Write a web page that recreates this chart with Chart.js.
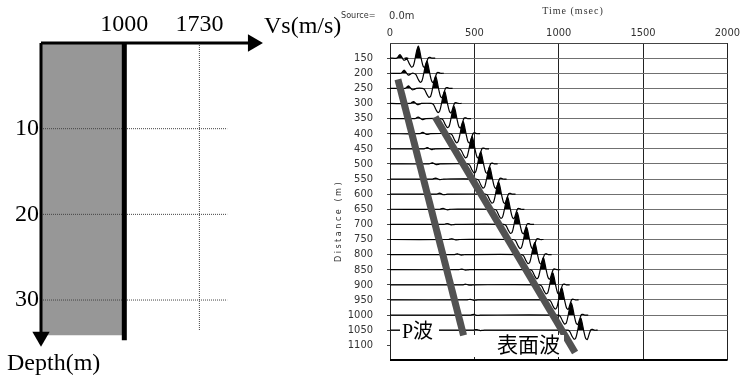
<!DOCTYPE html>
<html>
<head>
<meta charset="utf-8">
<script src="https://cdn.jsdelivr.net/npm/chart.js@4.4.1/dist/chart.umd.min.js"></script>
<style>
  html, body { margin: 0; padding: 0; background: #fff; }
  #wrap { position: relative; width: 743px; height: 381px; overflow: hidden; background: #fff; }
  #wrap canvas { position: absolute; left: 0; top: 0; }
</style>
</head>
<body>
<div id="wrap">
  <canvas id="profile" width="743" height="381"></canvas>
  <canvas id="gather" width="743" height="381"></canvas>
</div>
<script>
// ---------- Velocity profile ----------
const vsTicks = [1000, 1730];          // m/s labels on the Vs axis
const depthTicks = [10, 20, 30];       // m labels on the depth axis
const layerVs = 1000;                  // m/s of the shaded layer
const refVs = 1730;                    // m/s dotted reference line
const layerBottom = 34.1;              // m, bottom of the shaded layer
const layerLineBottom = 34.7;          // m, bottom of the bold Vs line
const refLineBottom = 33.6;            // m, bottom of the dotted Vs line
const gridVsEnd = 2000;                // m/s, end of the dotted depth lines
const vsMin = 190, vsMax = 3000;       // Vs axis range
const vsArrowEnd = 2251;               // m/s, arrow head position
const depthMax = 37;                   // depth axis range
const depthArrowEnd = 34.3;            // m, arrow head position

// ---------- Shot gather ----------
const offsets = [150, 200, 250, 300, 350, 400, 450, 500, 550, 600,
                 650, 700, 750, 800, 850, 900, 950, 1000, 1050];          // m
const surfacePeak = [168, 219, 271, 324, 380, 434, 487, 538, 591, 644,
                     697, 754, 810, 858, 909, 965, 1018, 1075, 1131];     // ms
const pArrival = [60, 85, 110, 140, 168, 195, 222, 252, 272, 295,
                  315, 340, 367, 400, 425, 450, 475, 495, 513];           // ms
const pAmp = [0.28, 0.25, 0.2, 0.16, 0.13, 0.11, 0.1, 0.09, 0.08, 0.08,
              0.07, 0.07, 0.06, 0.06, 0.05, 0.05, 0.05, 0.05, 0.05];     // relative
// surface-wave wavelet, time relative to its main peak (ms) and amplitude
const waveT = [-80, -66, -52, -40, -30, -20, -10, 0, 9, 18, 28, 38, 49, 60, 70, 80];
const waveA = [0, -0.1, -0.5, -0.75, -0.65, -0.1, 0.6, 1, 0.55, -0.1, -0.65, -0.78, -0.35, 0.05, 0.06, 0];
// P-wave wiggle, time relative to its arrival (ms) and amplitude
const pWaveT = [-20, -8, 0, 10, 22, 34, 46];
const pWaveA = [0, 0.7, 1, 0.3, -0.6, -0.4, 0];
const traceGain = 40;       // m of offset axis per unit amplitude
const traceTail = 100;      // ms of trace drawn after the main peak
const timeTicks = [0, 500, 1000, 1500, 2000];
// picked arrival lines: [time ms, offset m] at both ends
const pPick = [[47, 220], [436, 1067]];
const surfacePick = [[268, 345], [1097, 1124]];

const serif = "'Liberation Serif', 'Times New Roman', serif";
const cjk = "'Liberation Serif', 'Noto Sans CJK JP', serif";
const narrow = "'Liberation Sans Narrow', 'DejaVu Sans Condensed', 'Liberation Sans', sans-serif";

function seg(points, extra) {
  return Object.assign({
    data: points, showLine: true, pointRadius: 0, borderColor: '#000',
    borderWidth: 1, fill: false, clip: false, tension: 0, order: 1
  }, extra || {});
}

// ---- left chart ----
const profileText = {
  id: 'profileText',
  afterDraw(chart) {
    const ctx = chart.ctx;
    ctx.save();
    ctx.fillStyle = '#000';
    ctx.textAlign = 'left';
    ctx.textBaseline = 'alphabetic';
    ctx.font = '24px ' + serif;
    ctx.fillText('Vs(m/s)', 264, 33);
    ctx.fillText('Depth(m)', 7, 370);
    ctx.restore();
  }
};

new Chart(document.getElementById('profile'), {
  type: 'scatter',
  data: {
    datasets: [
      seg([{x: vsMin, y: 0}, {x: layerVs, y: 0}], {borderWidth: 0, fill: '+1', backgroundColor: '#979797', order: 10}),
      seg([{x: vsMin, y: layerBottom}, {x: layerVs, y: layerBottom}], {borderWidth: 0, order: 10}),
      ...depthTicks.map(d => seg([{x: vsMin, y: d}, {x: gridVsEnd, y: d}], {borderColor: '#444', borderDash: [1, 1], order: 5})),
      seg([{x: refVs, y: 0}, {x: refVs, y: refLineBottom}], {borderColor: '#444', borderDash: [1, 1], order: 5}),
      seg([{x: layerVs, y: 0}, {x: layerVs, y: layerLineBottom}], {borderWidth: 5}),
      seg([{x: vsMin, y: 0}, {x: vsArrowEnd, y: 0}], {borderWidth: 3, pointRadius: [0, 10], pointStyle: 'triangle',
          rotation: 90, pointBackgroundColor: '#000', pointBorderWidth: 0}),
      seg([{x: vsMin, y: 0}, {x: vsMin, y: depthArrowEnd}], {borderWidth: 3, pointRadius: [0, 10], pointStyle: 'triangle',
          rotation: 180, pointBackgroundColor: '#000', pointBorderWidth: 0})
    ]
  },
  options: {
    responsive: false, animation: false, devicePixelRatio: 1,
    layout: {padding: {left: 0, top: 0, right: 413, bottom: 21}},
    plugins: {legend: {display: false}, tooltip: {enabled: false}},
    scales: {
      x: {
        type: 'linear', position: 'top', min: vsMin, max: vsMax,
        afterBuildTicks: s => { s.ticks = vsTicks.map(v => ({value: v})); },
        afterFit: s => { s.height = 43; },
        grid: {display: false, drawTicks: false}, border: {display: false},
        ticks: {color: '#000', font: {family: serif, size: 24}, padding: 4, maxRotation: 0, autoSkip: false,
                callback: v => String(v)}
      },
      y: {
        type: 'linear', reverse: true, min: 0, max: depthMax,
        afterBuildTicks: s => { s.ticks = depthTicks.map(v => ({value: v})); },
        afterFit: s => { s.width = 41; },
        grid: {display: false, drawTicks: false}, border: {display: false},
        ticks: {color: '#000', font: {family: serif, size: 24}, padding: 2, callback: v => String(v)}
      }
    }
  },
  plugins: [profileText]
});

// ---- right chart ----
function traceData(i) {
  const d = offsets[i];
  const pts = [{x: 0, y: d}];
  pWaveT.forEach((t, k) => pts.push({x: pArrival[i] + t, y: d - pAmp[i] * pWaveA[k] * traceGain}));
  waveT.forEach((t, k) => pts.push({x: surfacePeak[i] + t, y: d - waveA[k] * traceGain}));
  pts.push({x: surfacePeak[i] + traceTail, y: d});
  return pts;
}

const traces = offsets.map((d, i) => ({
  data: traceData(i), showLine: true, pointRadius: 0, borderColor: '#000', borderWidth: 1.2,
  tension: 0.3, clip: false, order: 2,
  fill: {target: {value: d}, above: '#000', below: 'rgba(0,0,0,0)'}
}));

const picks = [pPick, surfacePick].map(p => ({
  data: p.map(q => ({x: q[0], y: q[1]})), showLine: true, pointRadius: 0, order: 1,
  borderColor: '#525252', borderWidth: 7, borderCapStyle: 'butt', fill: false, clip: false
}));

const gatherText = {
  id: 'gatherText',
  afterDatasetsDraw(chart) {
    const ctx = chart.ctx;
    ctx.save();
    // wave labels on white patches
    ctx.fillStyle = '#fff';
    ctx.fillRect(400, 316, 39, 25);
    ctx.fillRect(472, 335, 92, 22);
    ctx.fillStyle = '#000';
    ctx.textAlign = 'left';
    ctx.textBaseline = 'alphabetic';
    ctx.font = '20px ' + cjk;
    ctx.fillText('P波', 402, 338);
    ctx.font = '21px ' + cjk;
    ctx.fillText('表面波', 497, 352);
    // headers
    ctx.fillStyle = '#333';
    ctx.font = '9px ' + narrow;
    ctx.fillText('Source=', 341, 18);
    ctx.font = '11px ' + narrow;
    ctx.fillText('0.0m', 389, 19);
    ctx.textAlign = 'center';
    ctx.font = '10px ' + serif;
    ctx.letterSpacing = '1px';
    ctx.fillText('Time (msec)', 573, 14);
    ctx.translate(341, 221);
    ctx.rotate(-Math.PI / 2);
    ctx.font = '9px ' + narrow;
    ctx.letterSpacing = '2.5px';
    ctx.fillText('Distance (m)', 0, 0);
    ctx.restore();
  }
};

new Chart(document.getElementById('gather'), {
  type: 'scatter',
  data: {datasets: [...traces, ...picks]},
  options: {
    responsive: false, animation: false, devicePixelRatio: 1,
    layout: {padding: {left: 330, top: 0, right: 2.5, bottom: 7}},
    plugins: {legend: {display: false}, tooltip: {enabled: false}},
    scales: {
      x: {
        type: 'linear', position: 'top', min: 0, max: 2000,
        afterBuildTicks: s => { s.ticks = timeTicks.map(v => ({value: v})); },
        afterFit: s => { s.height = 43; },
        grid: {color: '#222', lineWidth: 1, drawTicks: false}, border: {display: false},
        ticks: {color: '#333', font: {family: narrow, size: 11}, padding: 3, maxRotation: 0, autoSkip: false,
                callback: v => String(v)}
      },
      y: {
        type: 'linear', reverse: true, min: 100, max: 1150,
        afterBuildTicks: s => {
          const t = [];
          for (let v = 100; v <= 1150; v += 50) t.push({value: v});
          s.ticks = t;
        },
        afterFit: s => { s.width = 60; },
        grid: {
          color: c => c.tick.value === 1150 ? '#000' : c.tick.value === 100 ? '#444' :
                      c.tick.value === 1100 ? 'rgba(0,0,0,0)' : '#707070',
          lineWidth: c => c.tick.value === 1150 ? 2 : 1,
          tickColor: c => (c.tick.value === 100 || c.tick.value === 1150) ? 'rgba(0,0,0,0)' : '#444',
          tickLength: 3
        },
        border: {display: false},
        ticks: {
          color: '#333', font: {family: narrow, size: 11}, padding: 14, autoSkip: false,
          callback: v => (v === 100 || v === 1150) ? '' : String(v)
        }
      }
    }
  },
  plugins: [gatherText]
});
</script>
</body>
</html>
